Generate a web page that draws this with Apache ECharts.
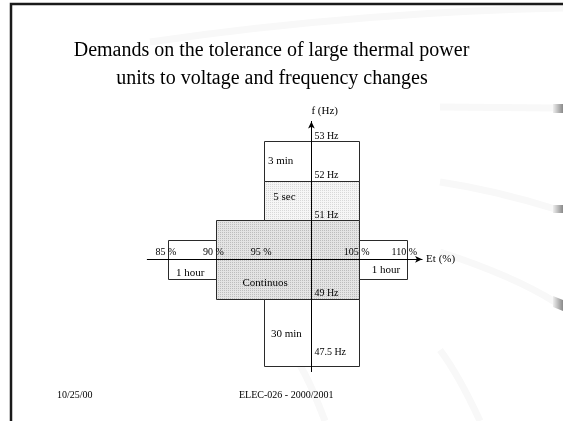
<!DOCTYPE html>
<html>
<head>
<meta charset="utf-8">
<script src="https://cdn.jsdelivr.net/npm/echarts@6/dist/echarts.min.js"></script>
<style>
    html, body { margin: 0; background: #fff; }
    #chart { width: 563px; height: 421px; }
</style>
</head>
<body>
<div id="chart"></div>
<script>
// tick labels on the two axes
const etTicks = [85, 90, 95, 105, 110];   // Et (%)
const hzTicks = [53, 52, 51, 49, 47.5];   // f (Hz)

// tolerance boxes: names, Et range (%), frequency range (Hz)
const boxNames = ['Continuos', '1 hour', '1 hour', '3 min', '5 sec', '30 min'];
const boxEt = [[90, 105], [85, 90], [105, 110], [95, 105], [95, 105], [95, 105]];
const boxHz = [[49, 51], [49.5, 50.5], [49.5, 50.5], [52, 53], [51, 52], [47.3, 49]];

// where each label sits inside its box (fraction of width / height)
const labelAt = [[0.34, 0.79], [0.45, 0.83], [0.55, 0.75], [0.17, 0.5], [0.21, 0.41], [0.23, 0.52]];

const serif = '"Liberation Serif", "DejaVu Serif", serif';

// dotted fill like the old slide
function dots(bg, dot) {
    const c = document.createElement('canvas');
    c.width = 2; c.height = 2;
    const g = c.getContext('2d');
    g.fillStyle = bg; g.fillRect(0, 0, 2, 2);
    g.fillStyle = dot; g.fillRect(0, 0, 1, 1);
    return { image: c, repeat: 'repeat' };
}
const fills = [dots('#e4e4e4', '#bdbdbd'), '#fff', '#fff', '#fff', dots('#f6f6f6', '#d8d8d8'), '#fff'];

const boxData = boxNames.map((n, i) => [boxEt[i][0], boxEt[i][1], boxHz[i][0], boxHz[i][1]]);

const chart = echarts.init(document.getElementById('chart'));

const tabGrad = new echarts.graphic.LinearGradient(0, 0, 1, 0, [
    { offset: 0, color: '#eeeeee' }, { offset: 1, color: '#8a8a8a' }
]);
const band = { stroke: '#f8f8f8', lineWidth: 7, fill: null };

const option = {
    animation: false,
    grid: { left: 147.3, top: 121.4, width: 274.8, height: 250.2 },
    xAxis: {
        type: 'value',
        min: 82.8,
        max: 111.6,
        position: 'bottom',
        offset: -112.3,
        z: 10,
        name: 'Et (%)',
        nameLocation: 'end',
        nameGap: 4,
        nameTextStyle: { fontFamily: serif, fontSize: 11, color: '#000', padding: [0, 0, 6, 0] },
        axisLine: { onZero: false, symbol: ['none', 'arrow'], symbolSize: [5, 7], lineStyle: { color: '#000', width: 1 } },
        axisTick: { show: false },
        splitLine: { show: false },
        axisLabel: {
            inside: true,
            margin: 2,
            customValues: etTicks,
            formatter: '{value} %',
            fontFamily: serif,
            fontSize: 10,
            color: '#000',
            padding: [0, 5, 0, 0]
        }
    },
    yAxis: {
        type: 'value',
        min: 47.15,
        max: 53.5,
        position: 'left',
        offset: -164.1,
        z: 10,
        name: 'f (Hz)',
        nameLocation: 'end',
        nameGap: 5,
        nameTextStyle: { fontFamily: serif, fontSize: 11, color: '#000', align: 'left' },
        axisLine: { onZero: false, symbol: ['none', 'arrow'], symbolSize: [5, 7], lineStyle: { color: '#000', width: 1 } },
        axisTick: { show: false },
        splitLine: { show: false },
        axisLabel: {
            inside: true,
            margin: 3,
            customValues: hzTicks,
            formatter: '{value} Hz',
            fontFamily: serif,
            fontSize: 10,
            color: '#000',
            align: 'left',
            verticalAlign: 'bottom'
        }
    },
    series: [{
        type: 'custom',
        coordinateSystem: 'cartesian2d',
        encode: { x: [0, 1], y: [2, 3] },
        data: boxData,
        silent: true,
        renderItem(params, api) {
            const i = params.dataIndex;
            const a = api.coord([api.value(0), api.value(3)]);
            const b = api.coord([api.value(1), api.value(2)]);
            const x0 = Math.round(a[0]) + 0.5, y0 = Math.round(a[1]) + 0.5;
            const x1 = Math.round(b[0]) + 0.5, y1 = Math.round(b[1]) + 0.5;
            const p = labelAt[i];
            return {
                type: 'group',
                children: [{
                    type: 'rect',
                    shape: { x: x0, y: y0, width: x1 - x0, height: y1 - y0 },
                    style: { fill: fills[i], stroke: '#2a2a2a', lineWidth: 1 }
                }, {
                    type: 'text',
                    x: x0 + p[0] * (x1 - x0),
                    y: y0 + p[1] * (y1 - y0),
                    style: {
                        text: boxNames[i],
                        font: '11px ' + serif,
                        fill: '#000',
                        align: 'center',
                        verticalAlign: 'middle'
                    }
                }]
            };
        }
    }],
    graphic: [
        // faint background swooshes
        { type: 'bezierCurve', z: -10, silent: true, shape: { x1: 150, y1: 42, cpx1: 300, cpy1: 20, cpx2: 450, cpy2: 10, x2: 563, y2: 8 }, style: band },
        { type: 'bezierCurve', z: -10, silent: true, shape: { x1: 440, y1: 107, cpx1: 480, cpy1: 107, cpx2: 520, cpy2: 108, x2: 555, y2: 108 }, style: band },
        { type: 'bezierCurve', z: -10, silent: true, shape: { x1: 440, y1: 182, cpx1: 480, cpy1: 188, cpx2: 520, cpy2: 198, x2: 555, y2: 209 }, style: band },
        { type: 'bezierCurve', z: -10, silent: true, shape: { x1: 440, y1: 252, cpx1: 480, cpy1: 265, cpx2: 520, cpy2: 280, x2: 555, y2: 302 }, style: band },
        { type: 'bezierCurve', z: -10, silent: true, shape: { x1: 290, y1: 350, cpx1: 305, cpy1: 370, cpx2: 315, cpy2: 395, x2: 325, y2: 421 }, style: band },
        { type: 'bezierCurve', z: -10, silent: true, shape: { x1: 440, y1: 350, cpx1: 455, cpy1: 370, cpx2: 468, cpy2: 395, x2: 480, y2: 421 }, style: band },
        // grey tabs at the right edge
        { type: 'rect', z: -5, silent: true, shape: { x: 553, y: 104, width: 10, height: 9 }, style: { fill: tabGrad } },
        { type: 'rect', z: -5, silent: true, shape: { x: 553, y: 205, width: 10, height: 8 }, style: { fill: tabGrad } },
        { type: 'polygon', z: -5, silent: true, shape: { points: [[553, 296], [563, 300], [563, 311], [553, 307]] }, style: { fill: tabGrad } },
        // slide frame
        { type: 'polyline', silent: true, shape: { points: [[563, 4], [11, 4], [11, 421]] }, style: { stroke: '#1a1a1a', lineWidth: 2.5, fill: null } },
        // title
        { type: 'text', silent: true, x: 271.5, y: 51, style: { text: 'Demands on the tolerance of large thermal power', font: '20px ' + serif, fill: '#000', align: 'center', verticalAlign: 'middle' } },
        { type: 'text', silent: true, x: 272, y: 78.3, style: { text: 'units to voltage and frequency changes', font: '20px ' + serif, fill: '#000', align: 'center', verticalAlign: 'middle' } },
        // footer
        { type: 'text', silent: true, x: 57, y: 395, style: { text: '10/25/00', font: '10px ' + serif, fill: '#000', align: 'left', verticalAlign: 'middle' } },
        { type: 'text', silent: true, x: 239, y: 395, style: { text: 'ELEC-026 - 2000/2001', font: '10px ' + serif, fill: '#000', align: 'left', verticalAlign: 'middle' } }
    ]
};

chart.setOption(option);
</script>
</body>
</html>
